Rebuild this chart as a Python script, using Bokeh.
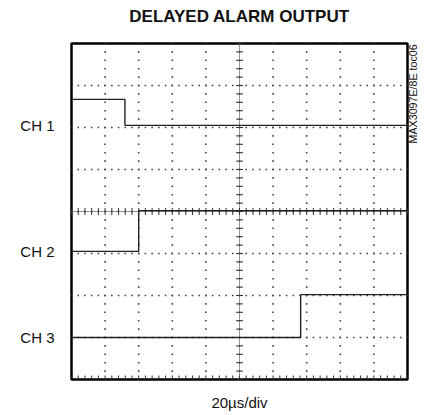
import numpy as np
from bokeh.plotting import figure
from bokeh.models import Range1d, LinearAxis, FixedTicker
from bokeh.embed import file_html
from bokeh.resources import INLINE

# ---- data (in scope divisions: 10 horizontal x 8 vertical) ----
ch1_t = [0.0, 1.59, 1.59, 10.0]
ch1_v = [6.67, 6.67, 6.05, 6.05]
ch2_t = [0.0, 2.0, 2.0, 10.0]
ch2_v = [3.05, 3.05, 4.02, 4.02]
ch3_t = [0.0, 6.82, 6.82, 10.0]
ch3_v = [1.0, 1.0, 2.02, 2.02]
channel_names = ["CH 1", "CH 2", "CH 3"]
channel_levels = [6.05, 3.05, 1.0]
title_text = "DELAYED ALARM OUTPUT"
xlabel_text = "20\u00b5s/div"
side_text = "MAX3097E/8E toc06"
side_pos = 5.62

FONT = "Liberation Sans"
NX, NY = 10, 8

p = figure(width=429, height=415, x_range=Range1d(0, NX), y_range=Range1d(0, NY),
           x_axis_type=None, y_axis_type=None, output_backend="svg",
           toolbar_location=None, min_border_left=71, min_border_right=22,
           min_border_top=43, min_border_bottom=36)
p.outline_line_color = "black"
p.outline_line_width = 2.5
p.background_fill_color = "white"
p.border_fill_color = "white"


def text_axis(ticks, overrides, standoff, size, style="normal", orientation="horizontal"):
    ax = LinearAxis(ticker=FixedTicker(ticks=ticks, minor_ticks=[]))
    ax.major_label_overrides = overrides
    ax.axis_line_color = None
    ax.major_tick_line_color = None
    ax.minor_tick_line_color = None
    ax.major_tick_out = 0
    ax.major_tick_in = 0
    ax.major_label_standoff = standoff
    ax.major_label_text_font = FONT
    ax.major_label_text_font_size = size
    ax.major_label_text_font_style = style
    ax.major_label_text_color = "#111111"
    ax.major_label_orientation = orientation
    return ax


# channel labels (left)
p.add_layout(text_axis(channel_levels, dict(zip(channel_levels, channel_names)), 17, "15px"), "left")
# x scale label (below)
p.add_layout(text_axis([NX / 2], {NX / 2: xlabel_text}, 14, "15px"), "below")
# title (above)
p.add_layout(text_axis([NX / 2], {NX / 2: title_text}, 18, "17px", style="bold"), "above")
# side id (right, rotated)
p.add_layout(text_axis([side_pos], {side_pos: side_text}, 6, "10.7px", orientation=np.pi / 2), "right")

# dotted graticule
gx, gy = [], []
for i in range(1, NX):
    ys = np.arange(0, NY + 0.001, 0.2)
    gx += [i] * len(ys)
    gy += list(ys)
for j in range(1, NY):
    xs = np.arange(0, NX + 0.001, 0.2)
    gx += list(xs)
    gy += [j] * len(xs)
p.scatter(gx, gy, marker="square", size=1.6, color="#444444", line_width=0)

# center cross with minor ticks
p.line([NX / 2, NX / 2], [0, NY], color="#666666", line_width=0.7)
p.line([0, NX], [NY / 2, NY / 2], color="#666666", line_width=0.7)
ty = np.arange(0, NY + 0.001, 0.2)
p.scatter([NX / 2] * len(ty), ty, marker="dash", size=7, line_color="#333333", line_width=1)
tx = np.arange(0, NX + 0.001, 0.2)
p.scatter(tx, [NY / 2] * len(tx), marker="dash", angle=np.pi / 2, size=7,
          line_color="#333333", line_width=1)
# bottom edge ticks
p.scatter(tx, [0] * len(tx), marker="dash", angle=np.pi / 2, size=8,
          line_color="#333333", line_width=1)

# traces
for t, v in [(ch1_t, ch1_v), (ch2_t, ch2_v), (ch3_t, ch3_v)]:
    p.line(t, v, color="#222222", line_width=1.4)

open("out.html", "w").write(file_html(p, INLINE))
